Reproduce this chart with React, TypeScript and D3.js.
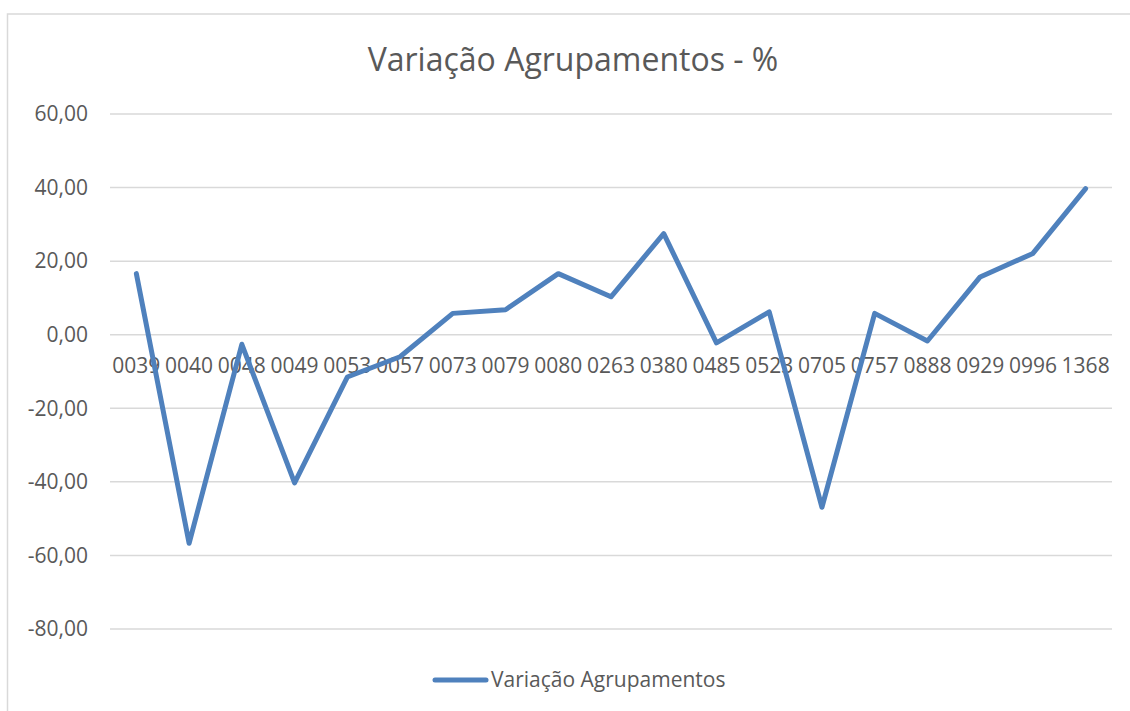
import React from 'react';
import * as d3 from 'd3';

const categories = ['0039', '0040', '0048', '0049', '0053', '0057', '0073', '0079', '0080', '0263', '0380', '0485', '0523', '0705', '0757', '0888', '0929', '0996', '1368'];
const variacao = [16.6, -56.7, -2.6, -40.3, -11.5, -6.0, 5.8, 6.8, 16.6, 10.3, 27.5, -2.2, 6.2, -46.9, 5.8, -1.7, 15.7, 22.1, 39.7];
const yTicks = [60, 40, 20, 0, -20, -40, -60, -80];

const title = 'Variação Agrupamentos - %';
const seriesName = 'Variação Agrupamentos';

export default function App() {
  const width = 1130;
  const height = 711;
  const left = 110;
  const right = 1112;
  const top = 114;
  const bottom = 629;

  const x = d3.scaleBand().domain(categories).range([left, right]);
  const y = d3.scaleLinear().domain([-80, 60]).range([bottom, top]);
  const cx = (c: string) => (x(c) ?? 0) + x.bandwidth() / 2;
  const line = d3.line<number>().x((d, i) => cx(categories[i])).y(d => y(d));
  const fmt = (v: number) => v.toFixed(2).replace('.', ',');
  const font = "'Open Sans', sans-serif";
  const textColor = '#595959';

  return (
    <svg width={width} height={height} style={{ position: 'absolute', left: 0, top: 0, background: '#fff' }}>
      <rect x={7.5} y={14} width={1140} height={720} fill="#fff" stroke="#d9d9d9" strokeWidth={1.5} />
      <text x={573} y={71} textAnchor="middle" fontFamily={font} fontSize={32} fill={textColor}>{title}</text>
      <g stroke="#d9d9d9" strokeWidth={1.5}>
        {yTicks.map(t => (
          <line key={t} x1={left} x2={right} y1={y(t)} y2={y(t)} />
        ))}
      </g>
      <g fontFamily={font} fontSize={21} fill={textColor} textAnchor="end">
        {yTicks.map(t => (
          <text key={t} x={88} y={y(t)} dy="0.35em">{fmt(t)}</text>
        ))}
      </g>
      <g fontFamily={font} fontSize={21} fill={textColor} textAnchor="middle">
        {categories.map(c => (
          <text key={c} x={cx(c)} y={y(0) + 38}>{c}</text>
        ))}
      </g>
      <path d={line(variacao) ?? ''} fill="none" stroke="#4f81bd" strokeWidth={5} strokeLinejoin="round" strokeLinecap="round" />
      <line x1={435} x2={486} y1={680} y2={680} stroke="#4f81bd" strokeWidth={5} strokeLinecap="round" />
      <text x={491} y={680} dy="0.35em" fontFamily={font} fontSize={21} fill={textColor}>{seriesName}</text>
    </svg>
  );
}
